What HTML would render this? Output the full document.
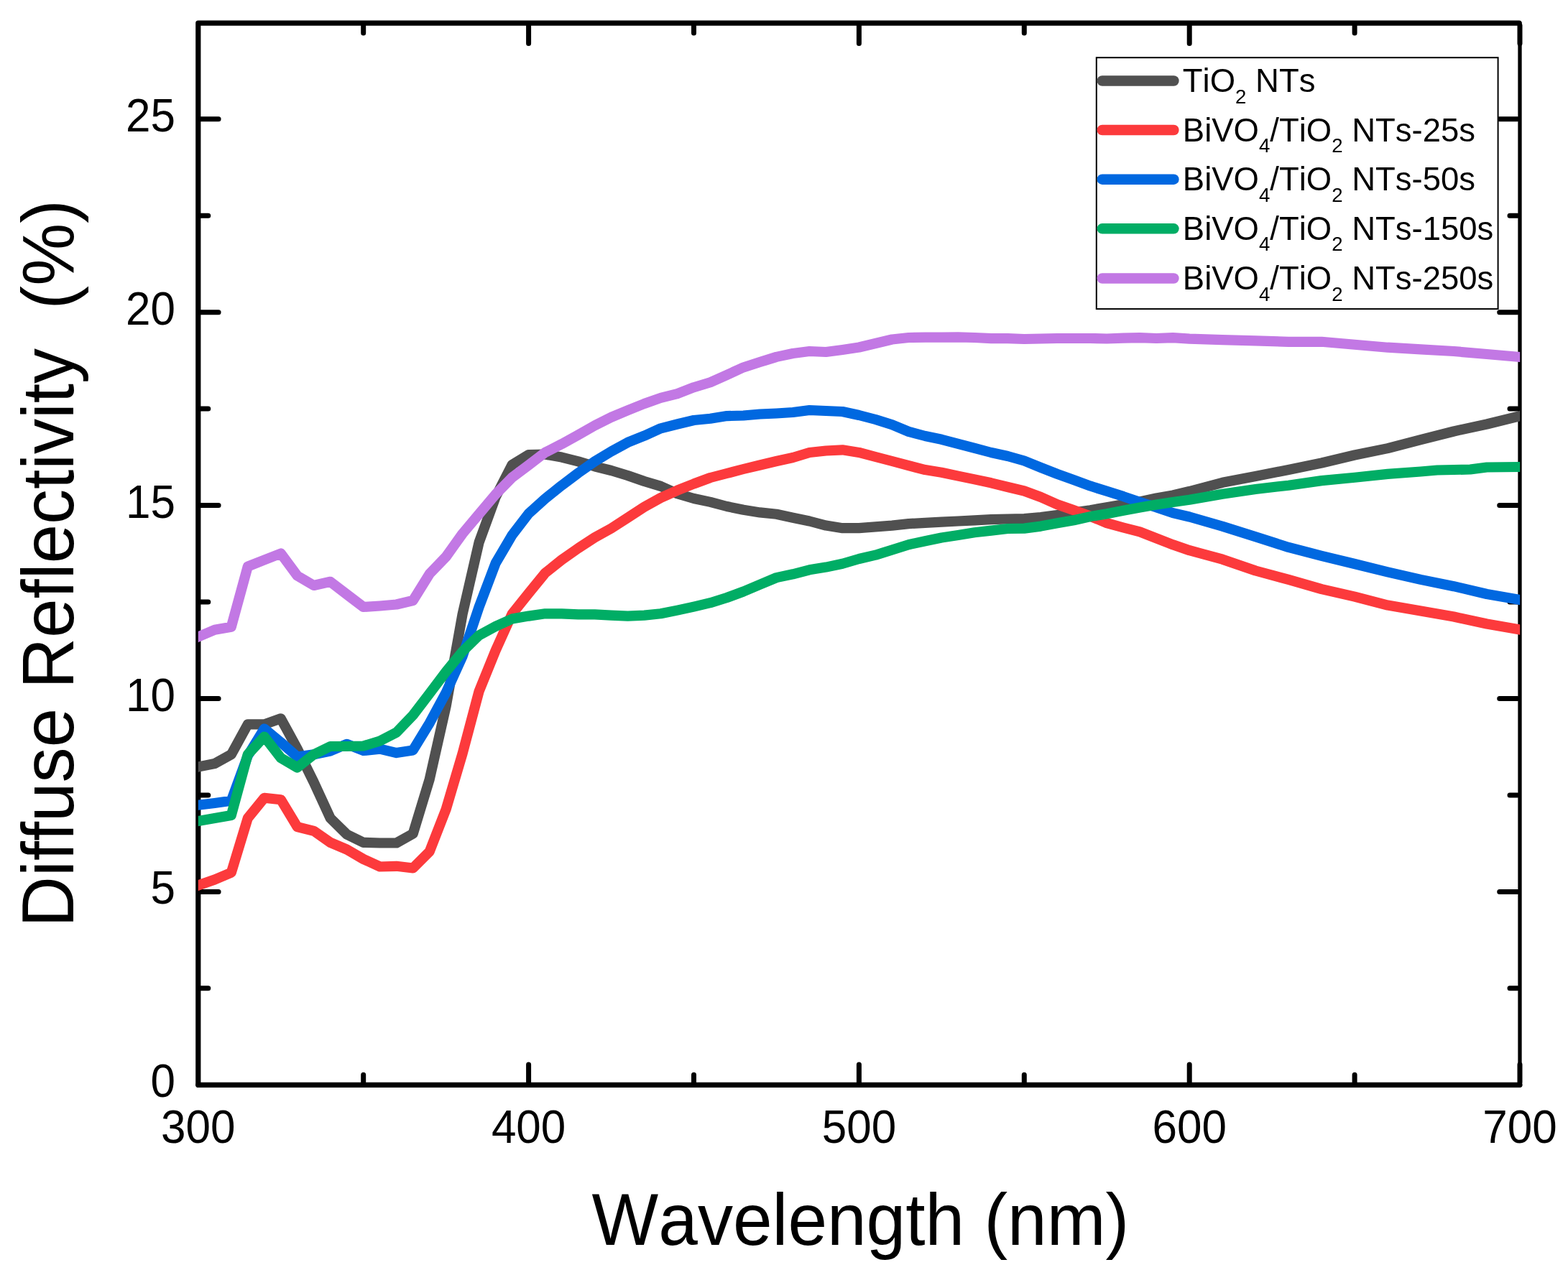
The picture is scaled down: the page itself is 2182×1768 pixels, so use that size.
<!DOCTYPE html>
<html><head><meta charset="utf-8"><title>Diffuse Reflectivity vs Wavelength</title>
<style>
html,body{margin:0;padding:0;background:#fff;}
body{width:2182px;height:1768px;overflow:hidden;}
svg{display:block;}
text{font-family:'Liberation Sans', Arial, Helvetica, sans-serif;fill:#000;font-kerning:none;}
</style></head><body>
<svg width="2182" height="1768" viewBox="0 0 2182 1768">
<rect x="0" y="0" width="2182" height="1768" fill="#fff"/>

<g stroke="#000" fill="none" stroke-linecap="round">
<path d="M275.8 1510.3 L275.8 32.1 L2114.0 32.1" stroke-width="7.2" stroke-linejoin="round"/>
<path d="M275.8 1510.3 L2115.0 1510.3" stroke-width="7.2" stroke-linejoin="round"/>
<path d="M2115.0 32.1 L2115.0 1510.3" stroke-width="5.3"/>
<path d="M505.7 1506.8 V1496.3 M505.7 35.6 V46.1 M735.6 1506.8 V1482.0 M735.6 35.6 V60.4 M965.5 1506.8 V1496.3 M965.5 35.6 V46.1 M1195.4 1506.8 V1482.0 M1195.4 35.6 V60.4 M1425.3 1506.8 V1496.3 M1425.3 35.6 V46.1 M1655.2 1506.8 V1482.0 M1655.2 35.6 V60.4 M1885.1 1506.8 V1496.3 M1885.1 35.6 V46.1 M2115.0 1506.8 V1482.0 M2115.0 35.6 V60.4 M279.3 1375.8 H289.8 M2111.5 1375.8 H2101.0 M279.3 1241.4 H304.1 M2111.5 1241.4 H2086.7 M279.3 1106.9 H289.8 M2111.5 1106.9 H2101.0 M279.3 972.5 H304.1 M2111.5 972.5 H2086.7 M279.3 838.0 H289.8 M2111.5 838.0 H2101.0 M279.3 703.6 H304.1 M2111.5 703.6 H2086.7 M279.3 569.1 H289.8 M2111.5 569.1 H2101.0 M279.3 434.7 H304.1 M2111.5 434.7 H2086.7 M279.3 300.2 H289.8 M2111.5 300.2 H2101.0 M279.3 165.8 H304.1 M2111.5 165.8 H2086.7" stroke-width="7"/>
</g>
<defs><clipPath id="pa"><rect x="275.8" y="30" width="1839.4" height="1480"/></clipPath></defs>
<g clip-path="url(#pa)" fill="none" stroke-width="14.2" stroke-linejoin="round" stroke-linecap="butt">
<path d="M266.6 1069.4 L275.8 1067.6 L298.8 1063.0 L321.8 1050.3 L344.8 1008.4 L367.8 1008.4 L390.8 1000.3 L413.7 1042.3 L436.7 1089.0 L459.7 1139.0 L482.7 1161.6 L505.7 1172.8 L528.7 1173.5 L551.7 1173.5 L574.7 1160.6 L597.7 1085.0 L620.7 983.0 L643.6 855.0 L666.6 755.0 L689.6 692.0 L712.6 647.0 L735.6 633.0 L758.6 632.5 L781.6 636.6 L804.6 642.4 L827.6 649.3 L850.5 655.0 L873.5 662.0 L896.5 670.0 L919.5 676.9 L942.5 687.3 L965.5 694.0 L988.5 698.9 L1011.5 705.0 L1034.5 709.8 L1057.5 713.4 L1080.5 715.8 L1103.4 720.7 L1126.4 725.5 L1149.4 731.6 L1172.4 735.2 L1195.4 735.2 L1218.4 733.3 L1241.4 731.6 L1264.4 729.1 L1287.4 727.9 L1310.3 726.7 L1333.3 725.5 L1356.3 724.3 L1379.3 723.1 L1402.3 722.5 L1425.3 722.0 L1448.3 720.0 L1471.3 717.0 L1494.3 713.5 L1517.3 710.2 L1540.2 706.2 L1563.2 702.3 L1586.2 698.4 L1609.2 693.4 L1632.2 689.4 L1655.2 684.0 L1701.2 671.8 L1747.2 663.0 L1793.1 654.0 L1839.1 644.5 L1885.1 633.5 L1931.1 624.1 L1977.1 612.2 L2023.0 600.5 L2069.0 590.5 L2115.0 579.1 L2124.2 576.8" stroke="#505050"/>
<path d="M266.6 1235.8 L275.8 1232.6 L298.8 1224.5 L321.8 1214.8 L344.8 1139.0 L367.8 1110.8 L390.8 1113.2 L413.7 1151.1 L436.7 1156.8 L459.7 1172.9 L482.7 1182.6 L505.7 1196.0 L528.7 1206.5 L551.7 1205.8 L574.7 1208.5 L597.7 1185.5 L620.7 1126.5 L643.6 1049.0 L666.6 962.4 L689.6 905.6 L712.6 854.7 L735.6 826.0 L758.6 797.8 L781.6 779.4 L804.6 763.3 L827.6 748.3 L850.5 735.6 L873.5 720.7 L896.5 705.7 L919.5 693.0 L942.5 682.7 L965.5 673.5 L988.5 665.0 L1011.5 659.0 L1034.5 653.0 L1057.5 647.5 L1080.5 642.0 L1103.4 637.0 L1126.4 630.0 L1149.4 627.5 L1172.4 626.3 L1195.4 629.9 L1218.4 636.0 L1241.4 642.0 L1264.4 648.1 L1287.4 654.1 L1310.3 657.8 L1333.3 662.6 L1356.3 667.4 L1379.3 672.3 L1402.3 678.0 L1425.3 683.5 L1448.3 692.0 L1471.3 702.3 L1494.3 710.2 L1517.3 718.6 L1540.2 728.1 L1563.2 734.5 L1586.2 740.4 L1609.2 749.4 L1632.2 758.3 L1655.2 766.2 L1701.2 778.7 L1747.2 794.5 L1793.1 806.9 L1839.1 820.1 L1885.1 830.7 L1931.1 842.6 L1977.1 850.6 L2023.0 858.5 L2069.0 868.5 L2115.0 876.5 L2124.2 878.1" stroke="#FC3A3C"/>
<path d="M266.6 1121.9 L275.8 1120.8 L298.8 1118.0 L321.8 1114.8 L344.8 1052.0 L367.8 1014.5 L390.8 1033.4 L413.7 1053.5 L436.7 1050.3 L459.7 1045.5 L482.7 1035.8 L505.7 1045.0 L528.7 1042.6 L551.7 1048.1 L574.7 1044.4 L597.7 1006.7 L620.7 964.2 L643.6 913.5 L666.6 845.0 L689.6 784.2 L712.6 745.0 L735.6 715.0 L758.6 694.2 L781.6 675.8 L804.6 658.5 L827.6 642.4 L850.5 628.5 L873.5 615.9 L896.5 606.7 L919.5 596.3 L942.5 590.5 L965.5 585.0 L988.5 582.8 L1011.5 579.1 L1034.5 578.5 L1057.5 576.5 L1080.5 575.5 L1103.4 574.0 L1126.4 571.0 L1149.4 572.0 L1172.4 573.0 L1195.4 578.0 L1218.4 584.0 L1241.4 591.2 L1264.4 600.9 L1287.4 607.0 L1310.3 611.8 L1333.3 617.8 L1356.3 623.9 L1379.3 630.0 L1402.3 635.0 L1425.3 641.5 L1448.3 650.8 L1471.3 659.8 L1494.3 668.2 L1517.3 676.6 L1540.2 683.8 L1563.2 691.1 L1586.2 699.0 L1609.2 706.2 L1632.2 714.1 L1655.2 719.5 L1701.2 732.7 L1747.2 747.3 L1793.1 761.9 L1839.1 773.8 L1885.1 785.0 L1931.1 796.3 L1977.1 806.9 L2023.0 816.2 L2069.0 827.0 L2115.0 835.0 L2124.2 836.6" stroke="#0068E0"/>
<path d="M266.6 1144.6 L275.8 1143.0 L298.8 1139.0 L321.8 1135.0 L344.8 1050.3 L367.8 1025.5 L390.8 1055.2 L413.7 1068.5 L436.7 1050.3 L459.7 1039.0 L482.7 1039.0 L505.7 1038.5 L528.7 1031.5 L551.7 1019.6 L574.7 995.6 L597.7 965.5 L620.7 935.0 L643.6 907.0 L666.6 884.5 L689.6 872.0 L712.6 861.6 L735.6 857.6 L758.6 854.3 L781.6 854.3 L804.6 855.4 L827.6 855.4 L850.5 856.6 L873.5 857.7 L896.5 856.6 L919.5 854.3 L942.5 849.6 L965.5 844.6 L988.5 839.2 L1011.5 832.0 L1034.5 823.5 L1057.5 813.8 L1080.5 804.1 L1103.4 799.3 L1126.4 793.3 L1149.4 789.6 L1172.4 784.8 L1195.4 778.0 L1218.4 772.7 L1241.4 765.4 L1264.4 758.2 L1287.4 753.3 L1310.3 748.5 L1333.3 744.9 L1356.3 741.2 L1379.3 738.6 L1402.3 736.0 L1425.3 735.6 L1448.3 732.6 L1471.3 728.3 L1494.3 724.2 L1517.3 719.1 L1540.2 715.2 L1563.2 710.7 L1586.2 706.5 L1609.2 702.5 L1632.2 699.0 L1655.2 695.8 L1701.2 687.7 L1747.2 681.0 L1793.1 675.7 L1839.1 669.1 L1885.1 664.8 L1931.1 659.9 L1977.1 656.5 L2000.0 654.5 L2023.0 654.0 L2046.0 653.5 L2069.0 650.5 L2115.0 650.0 L2124.2 649.9" stroke="#00AD65"/>
<path d="M266.6 890.4 L275.8 886.5 L298.8 876.8 L321.8 872.7 L344.8 788.6 L367.8 779.5 L390.8 770.5 L413.7 801.5 L436.7 815.0 L459.7 809.8 L482.7 827.5 L505.7 845.0 L528.7 843.5 L551.7 841.5 L574.7 836.0 L597.7 798.9 L620.7 775.0 L643.6 743.0 L666.6 715.6 L689.6 688.2 L712.6 664.7 L735.6 647.5 L758.6 629.9 L781.6 618.2 L804.6 605.5 L827.6 592.4 L850.5 580.9 L873.5 571.2 L896.5 562.0 L919.5 553.9 L942.5 548.1 L965.5 539.2 L988.5 532.2 L1011.5 522.0 L1034.5 511.4 L1057.5 504.1 L1080.5 496.9 L1103.4 492.0 L1126.4 489.0 L1149.4 490.0 L1172.4 487.0 L1195.4 483.5 L1218.4 478.0 L1241.4 472.5 L1264.4 470.0 L1287.4 469.6 L1310.3 469.6 L1333.3 469.3 L1356.3 470.0 L1379.3 471.2 L1402.3 471.2 L1425.3 472.0 L1448.3 471.5 L1471.3 471.0 L1494.3 471.0 L1517.3 471.0 L1540.2 471.5 L1563.2 470.7 L1586.2 470.2 L1609.2 471.0 L1632.2 470.2 L1655.2 471.6 L1701.2 473.1 L1747.2 474.4 L1793.1 475.8 L1839.1 475.8 L1885.1 479.7 L1931.1 483.7 L1977.1 486.4 L2023.0 489.0 L2069.0 493.0 L2115.0 497.0 L2124.2 497.8" stroke="#C278E4"/>
</g>
<g font-size="62" text-anchor="middle">
<text transform="translate(275.8 1590.5) scale(1 1.06)">300</text>
<text transform="translate(735.6 1590.5) scale(1 1.06)">400</text>
<text transform="translate(1195.4 1590.5) scale(1 1.06)">500</text>
<text transform="translate(1655.2 1590.5) scale(1 1.06)">600</text>
<text transform="translate(2115.0 1590.5) scale(1 1.06)">700</text>
</g>
<g font-size="62" text-anchor="end">
<text transform="translate(244 1527.3) scale(1 1.06)">0</text>
<text transform="translate(244 1258.4) scale(1 1.06)">5</text>
<text transform="translate(244 989.5) scale(1 1.06)">10</text>
<text transform="translate(244 720.6) scale(1 1.06)">15</text>
<text transform="translate(244 451.7) scale(1 1.06)">20</text>
<text transform="translate(244 182.8) scale(1 1.06)">25</text>
</g>
<text transform="translate(1197.4 1732.5) scale(1 1.04)" font-size="98.2" text-anchor="middle">Wavelength (nm)</text>
<text transform="translate(102 784.5) rotate(-90) scale(1 1.035)" font-size="98" text-anchor="middle" xml:space="preserve">Diffuse Reflectivity  (%)</text>
<rect x="1525.8" y="80.2" width="558.8" height="349.9" fill="#fff" stroke="#000" stroke-width="2"/>
<g stroke-width="14.5" stroke-linecap="round">
<line x1="1533.8" y1="112.5" x2="1633.4" y2="112.5" stroke="#505050"/>
<line x1="1533.8" y1="181.0" x2="1633.4" y2="181.0" stroke="#FC3A3C"/>
<line x1="1533.8" y1="249.7" x2="1633.4" y2="249.7" stroke="#0068E0"/>
<line x1="1533.8" y1="318.3" x2="1633.4" y2="318.3" stroke="#00AD65"/>
<line x1="1533.8" y1="387.5" x2="1633.4" y2="387.5" stroke="#C278E4"/>
</g>
<text transform="translate(1645.8 128.1) scale(1 1.03)" font-size="45.5" xml:space="preserve"><tspan>TiO</tspan><tspan font-size="27.6" dy="15">2</tspan><tspan font-size="45.5" dy="-15" xml:space="preserve"> NTs</tspan></text>
<text transform="translate(1645.8 196.6) scale(1 1.03)" font-size="45.5" xml:space="preserve"><tspan>BiVO</tspan><tspan font-size="27.6" dy="15">4</tspan><tspan font-size="45.5" dy="-15">/TiO</tspan><tspan font-size="27.6" dy="15">2</tspan><tspan font-size="45.5" dy="-15" xml:space="preserve"> NTs-25s</tspan></text>
<text transform="translate(1645.8 265.3) scale(1 1.03)" font-size="45.5" xml:space="preserve"><tspan>BiVO</tspan><tspan font-size="27.6" dy="15">4</tspan><tspan font-size="45.5" dy="-15">/TiO</tspan><tspan font-size="27.6" dy="15">2</tspan><tspan font-size="45.5" dy="-15" xml:space="preserve"> NTs-50s</tspan></text>
<text transform="translate(1645.8 333.9) scale(1 1.03)" font-size="45.5" xml:space="preserve"><tspan>BiVO</tspan><tspan font-size="27.6" dy="15">4</tspan><tspan font-size="45.5" dy="-15">/TiO</tspan><tspan font-size="27.6" dy="15">2</tspan><tspan font-size="45.5" dy="-15" xml:space="preserve"> NTs-150s</tspan></text>
<text transform="translate(1645.8 403.1) scale(1 1.03)" font-size="45.5" xml:space="preserve"><tspan>BiVO</tspan><tspan font-size="27.6" dy="15">4</tspan><tspan font-size="45.5" dy="-15">/TiO</tspan><tspan font-size="27.6" dy="15">2</tspan><tspan font-size="45.5" dy="-15" xml:space="preserve"> NTs-250s</tspan></text>
</svg>
</body></html>
